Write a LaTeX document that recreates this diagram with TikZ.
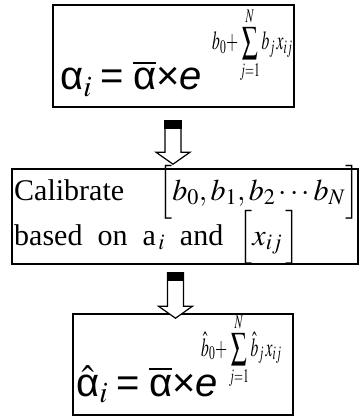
\documentclass[tikz,border=0pt]{standalone}
\usepackage{mathptmx}
\usepackage{graphicx}
\usepackage{fontspec}
\setmainfont{Liberation Serif}
\newfontfamily\grk{Liberation Sans}
\newfontfamily\grki{Liberation Sans Italic}
\usetikzlibrary{calc}
\tikzset{
  boxnode/.style={draw, line width=1.6pt, inner sep=0pt, minimum width=#1},
  txt/.style={inner sep=0pt, anchor=base west, font=\fontsize{30}{34}\selectfont},
  mainf/.style={inner sep=0pt, anchor=base west, font=\fontsize{40}{48}\selectfont},
  expf/.style={inner sep=0pt, anchor=base west, font=\fontsize{26}{30}\selectfont},
}
\newcommand\ga{\mbox{\grk α}}
\newcommand\narrow[1]{\scalebox{0.6}[1]{#1}}
\newcommand\blkarrow[2]{%
  \path let \p1=(#1), \p2=(#2) in
    [draw, line width=1.2pt, fill=white]
    (\x1-8pt,\y1) -- (\x1-8pt,\y2+12pt) -- (\x1-17pt,\y2+12pt) -- (\x2,\y2)
    -- (\x1+17pt,\y2+12pt) -- (\x1+8pt,\y2+12pt) -- (\x1+8pt,\y1) -- cycle;
  \path let \p1=(#1) in
    [fill=black, draw, line width=1.2pt] (\x1-8pt,\y1) rectangle (\x1+8pt,\y1-8pt);}
\begin{document}
\begin{tikzpicture}[x=1pt,y=-1pt]
\useasboundingbox (0,0) rectangle (360,417);
% boxes
\node[boxnode=241pt, minimum height=102pt] (box1) at (173.5,56) {};
\node[boxnode=346pt, minimum height=95pt] (box2) at (185,216.5) {};
\node[boxnode=220pt, minimum height=101pt] (box3) at (183,364.5) {};
% formula 1
\node[mainf] (f1) at (60,90) {$\ga_{i}\mathrel{\mbox{\grk =}}\overline{\ga}\mbox{\grk ×}\mbox{\grki e}$};
\node[expf] (e1) at (212,50) {\narrow{$b_0{+}\displaystyle\sum_{j=1}^{N} b_j\, x_{ij}$}};
% box 2 text
\node[txt] (t1) at (14,200) {Calibrate\hspace{34pt}$\Bigl[b_0, b_1 , b_2 \cdots b_N\Bigr]$};
\node[txt] (t2) at (14,245) {based\ \ on\ \ a$_{\,i}$\ \ and\ \ $\Bigl[x_{ij}\,\Bigr]$};
% formula 3
\node[mainf] (f3) at (76,396) {$\hat{\ga}_{i}\mathrel{\mbox{\grk =}}\overline{\ga}\mbox{\grk ×}\mbox{\grki e}$};
\node[expf] (e3) at (201,356) {\narrow{$\hat b_0{+}\displaystyle\sum_{j=1}^{N} \hat b_j\, x_{ij}$}};
% arrows
\coordinate (a1s) at ($(box1.south -| 173,0)+(0,13)$);
\coordinate (a1e) at ($(box2.north -| 173,0)+(0,-4)$);
\coordinate (a2s) at ($(box2.south -| 175.5,0)+(0,8)$);
\coordinate (a2e) at ($(box3.north -| 175.5,0)+(0,5)$);
\blkarrow{a1s}{a1e}
\blkarrow{a2s}{a2e}
\end{tikzpicture}
\end{document}
